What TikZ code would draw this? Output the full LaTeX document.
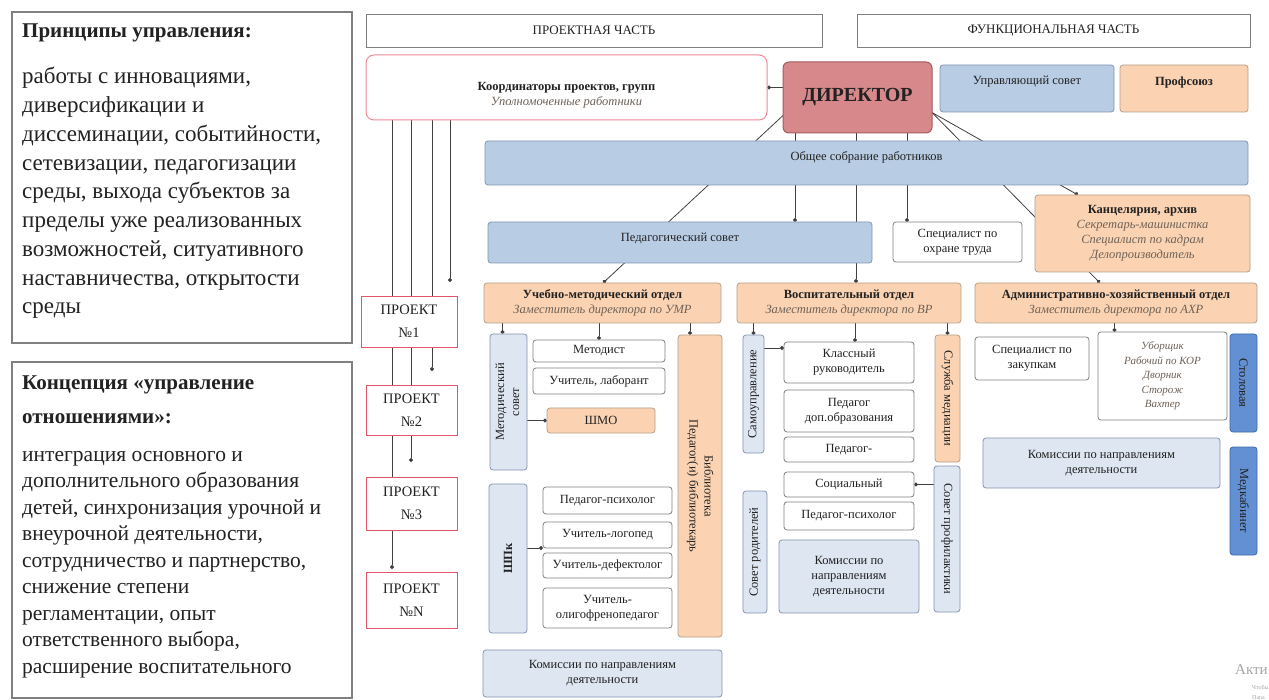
\documentclass[tikz,border=0pt]{standalone}
\usepackage{fontspec}
\setmainfont{Liberation Serif}
\usetikzlibrary{arrows.meta,backgrounds}
\definecolor{cblue}{HTML}{B8CCE4}
\definecolor{cblueb}{HTML}{8496B0}
\definecolor{clblue}{HTML}{DDE6F1}
\definecolor{corange}{HTML}{FBD3B2}
\definecolor{corangeb}{HTML}{B59F8C}
\definecolor{cdir}{HTML}{D6888B}
\definecolor{cdirb}{HTML}{A45A5C}
\definecolor{cdblue}{HTML}{6290D3}
\definecolor{cdblueb}{HTML}{3E6AA8}
\definecolor{ccoordb}{HTML}{EE8A96}
\definecolor{cprojb}{HTML}{E0566A}
\definecolor{cgray}{HTML}{808080}
\definecolor{ctext}{HTML}{222222}
\definecolor{citext}{HTML}{6E6258}
\definecolor{clink}{HTML}{404040}
\newcommand\bx[7]{\node[#2,minimum width={#5-#3},minimum height={#6-#4}] (#1) at ({(#3+#5)/2},{(#4+#6)/2}) {#7};}
\newcommand\bxt[8]{\node[#2,minimum width={#5-#3},minimum height={#6-#4}] (#1) at ({(#3+#5)/2},{(#4+#6)/2}) {};
  \node[#2,draw=none,fill=none,minimum width=0pt,minimum height=0pt] (#1-t) at ({(#3+#5)/2},#8) {#7};}
\newcommand\txtlines[1]{\begin{tabular}[t]{@{}l@{}}#1\end{tabular}}
\newcommand\vlns[1]{\begin{tabular}{@{}c@{}}#1\end{tabular}}
\newcommand\lbl{\fontsize{12.5}{15}\selectfont}
\newcommand\itg[1]{{\itshape\color{citext}#1}}
\begin{document}
\begin{tikzpicture}[x=1pt,y=-1pt,
  box/.style={rounded corners=3pt, line width=0.8pt, inner sep=1pt, outer sep=0pt, align=center, font=\lbl, text=ctext},
  bluebox/.style={box, fill=cblue, draw=cblueb},
  lbluebox/.style={box, fill=clblue, draw=cblueb},
  orbox/.style={box, fill=corange, draw=corangeb},
  whbox/.style={box, fill=white, draw=cgray},
  dkbox/.style={box, fill=cdblue, draw=cdblueb},
  dirbox/.style={box, rounded corners=6pt, fill=cdir, draw=cdirb, line width=1pt, font=\bfseries\fontsize{20}{22}\selectfont},
  coordbox/.style={box, rounded corners=8pt, fill=white, draw=ccoordb, line width=1pt},
  projbox/.style={draw=cprojb, fill=white, line width=0.9pt, inner sep=1pt, outer sep=0pt, align=center, text=ctext, font=\fontsize{14.5}{23}\selectfont},
  hdr/.style={draw=cgray, fill=white, line width=0.9pt, inner sep=1pt, outer sep=0pt, text=ctext, font=\fontsize{13}{15}\selectfont},
  panel/.style={draw=cgray, fill=white, line width=1.2pt, inner sep=0pt, outer sep=0pt},
  ptext/.style={anchor=base west, inner sep=0pt, text=ctext},
  conn/.style={draw=clink, line width=0.8pt, -{Circle[length=4pt]}},
  wm/.style={anchor=base west, inner sep=0pt, text=black!35}
]
\useasboundingbox (0,0) rectangle (1269,700);

% ---------- left panels ----------
\bx{pan1}{panel}{12}{12}{352}{343}{}
\node[ptext, font=\bfseries\fontsize{21}{25}\selectfont] (pan1t) at (22,38) {Принципы управления:};
\node[ptext, font=\fontsize{23}{28.75}\selectfont] (pan1b) at (22,84) {\txtlines{работы с инновациями,\\диверсификации и\\диссеминации, событийности,\\сетевизации, педагогизации\\среды, выхода субъектов за\\пределы уже реализованных\\возможностей, ситуативного\\наставничества, открытости\\среды}};

\bx{pan2}{panel}{12}{362}{352}{698}{}
\node[ptext, font=\bfseries\fontsize{21}{34}\selectfont] (pan2t) at (22,389) {\txtlines{Концепция «управление\\отношениями»:}};
\node[ptext, font=\fontsize{21.5}{26.5}\selectfont] (pan2b) at (22,461) {\txtlines{интеграция основного и\\дополнительного образования\\детей, синхронизация урочной и\\внеурочной деятельности,\\сотрудничество и партнерство,\\снижение степени\\регламентации, опыт\\ответственного выбора,\\расширение воспитательного}};

% ---------- headers ----------
\bx{hproj}{hdr}{366}{14}{822}{47}{ПРОЕКТНАЯ ЧАСТЬ}
\bx{hfunc}{hdr}{857}{14}{1250}{47}{ФУНКЦИОНАЛЬНАЯ ЧАСТЬ}

% ---------- top level ----------
\bxt{coord}{coordbox}{366}{55}{767}{120}{\textbf{Координаторы проектов, групп}\\\itg{Уполномоченные работники}}{95}
\bx{dir}{dirbox}{783}{62}{932}{133}{ДИРЕКТОР}
\bxt{us}{bluebox}{940}{65}{1114}{112}{Управляющий совет}{82}
\bxt{prof}{orbox}{1120}{65}{1248}{112}{\textbf{Профсоюз}}{82}
\bxt{sob}{bluebox}{485}{141}{1248}{185}{Общее собрание работников}{157}
\bxt{ped}{bluebox}{488}{222}{872}{263}{Педагогический совет}{238}
\bx{ot}{whbox}{893}{222}{1022}{262}{Специалист по\\охране труда}
\bx{kanc}{orbox}{1035}{195}{1250}{272}{\textbf{Канцелярия, архив}\\\itg{Секретарь-машинистка}\\\itg{Специалист по кадрам}\\\itg{Делопроизводитель}}

% ---------- departments ----------
\bx{umo}{orbox}{484}{283}{721}{323}{\textbf{Учебно-методический отдел}\\\itg{Заместитель директора по УМР}}
\bx{vo}{orbox}{737}{283}{961}{323}{\textbf{Воспитательный отдел}\\\itg{Заместитель директора по ВР}}
\bx{aho}{orbox}{975}{283}{1257}{323}{\textbf{Административно-хозяйственный отдел}\\\itg{Заместитель директора по АХР}}

% ---------- UMO column ----------
\bx{metsov}{lbluebox}{490}{334}{527}{470}{\rotatebox{90}{\vlns{Методический\\совет}}}
\bx{metod}{whbox}{533}{340}{665}{362}{Методист}
\bx{uchlab}{whbox}{533}{368}{665}{394}{Учитель, лаборант}
\bx{shmo}{orbox}{547}{408}{655}{433}{ШМО}
\bx{bib}{orbox}{678}{335}{722}{637}{\rotatebox{-90}{\vlns{Библиотека\\Педагог(и) библиотекарь}}}
\bx{shpk}{lbluebox}{489}{484}{527}{633}{\rotatebox{90}{\textbf{ШПк}}}
\bx{psy1}{whbox}{543}{487}{672}{514}{Педагог-психолог}
\bx{logo}{whbox}{543}{522}{672}{548}{Учитель-логопед}
\bx{defe}{whbox}{543}{553}{672}{578}{Учитель-дефектолог}
\bx{olig}{whbox}{543}{588}{672}{628}{Учитель-\\олигофренопедагог}
\bx{kom1}{lbluebox}{483}{650}{722}{697}{Комиссии по направлениям\\деятельности}

% ---------- VO column ----------
\bx{sam}{lbluebox}{743}{335}{764}{453}{\rotatebox{90}{Самоуправление}}
\bx{klass}{whbox}{784}{342}{914}{383}{Классный\\руководитель}
\bx{pdo}{whbox}{784}{390}{914}{432}{Педагог\\доп.образования}
\bx{ped2}{whbox}{784}{437}{914}{462}{Педагог-}
\bx{soc}{whbox}{784}{472}{914}{497}{Социальный}
\bx{psy2}{whbox}{784}{502}{914}{530}{Педагог-психолог}
\bx{kom2}{lbluebox}{779}{540}{919}{613}{Комиссии по\\направлениям\\деятельности}
\bx{rod}{lbluebox}{743}{491}{767}{613}{\rotatebox{90}{Совет родителей}}
\bx{med}{orbox}{935}{335}{960}{462}{\rotatebox{-90}{Служба медиации}}
\bx{profil}{lbluebox}{934}{466}{960}{612}{\rotatebox{-90}{Совет профилактики}}

% ---------- AHO column ----------
\bx{zak}{whbox}{975}{337}{1089}{380}{Специалист по\\закупкам}
\bx{ub}{whbox, font=\itshape\fontsize{11}{14.5}\selectfont, text=citext}{1098}{332}{1227}{420}{Уборщик\\Рабочий по КОР\\Дворник\\Сторож\\Вахтер}
\bx{stol}{dkbox}{1230}{334}{1257}{432}{\rotatebox{-90}{Столовая}}
\bx{kom3}{lbluebox}{983}{438}{1220}{488}{Комиссии по направлениям\\деятельности}
\bx{medk}{dkbox}{1230}{447}{1257}{555}{\rotatebox{-90}{Медкабинет}}

% ---------- projects ----------
\bx{p1}{projbox}{361}{296}{457}{347}{ПРОЕКТ\\№1}
\bx{p2}{projbox}{366}{385}{457}{435}{ПРОЕКТ\\№2}
\bx{p3}{projbox}{366}{477}{457}{530}{ПРОЕКТ\\№3}
\bx{pN}{projbox}{366}{572}{457}{628}{ПРОЕКТ\\№N}

% ---------- watermark fragments ----------
\node[wm, font=\fontsize{15}{15}\selectfont] (wm1) at (1235,674) {Акти};
\node[wm, font=\fontsize{6}{6}\selectfont] (wm2) at (1252,689) {Чтобы};
\node[wm, font=\fontsize{6}{6}\selectfont] (wm3) at (1252,699) {Пара};

% ---------- connectors (behind boxes) ----------
\begin{pgfonlayer}{background}
\fill[white] (0,0) rectangle (1269,700);
\draw[conn] (dir.west |- coord.east) -- (coord.east);
\draw[conn] ([yshift=-18]dir.west) -- ([xshift=119]umo.north west);
\draw[conn] ([xshift=12]dir.south west) -- ([xshift=12]dir.south west |- ped.north);
\draw[conn] ([xshift=73]dir.south west) -- ([xshift=73]dir.south west |- vo.north);
\draw[conn] ([xshift=124]dir.south west) -- ([xshift=124]dir.south west |- ot.north);
\draw[conn] ([yshift=-15]dir.east) -- ([xshift=125]aho.north west);
\draw[conn] ([yshift=-15]dir.east) -- ([xshift=43]kanc.north west);
% coordinators to projects
\draw[conn, shorten >=3pt] ([xshift=26]coord.south west) -- ([xshift=26]coord.south west |- pN.north);
\draw[conn, shorten >=15pt] ([xshift=45]coord.south west) -- ([xshift=45]coord.south west |- p3.north);
\draw[conn, shorten >=14pt] ([xshift=66]coord.south west) -- ([xshift=66]coord.south west |- p2.north);
\draw[conn, shorten >=14pt] ([xshift=84]coord.south west) -- ([xshift=84]coord.south west |- p1.north);
% UMO
\draw[conn] ([xshift=-6]umo.south -| metsov.north) -- ([xshift=-6]metsov.north);
\draw[conn] (umo.south -| metod.north) -- (metod.north);
\draw[conn] ([xshift=-10]umo.south -| bib.north) -- ([xshift=-10]bib.north);
\draw[conn] (metsov.east |- shmo.west) -- (shmo.west);
\draw[conn] (shpk.east |- logo.south west) -- (logo.south west);
% VO
\draw[conn] (vo.south -| sam.north) -- (sam.north);
\draw[conn] ([xshift=6]vo.south -| klass.north) -- ([xshift=6]klass.north);
\draw[conn] ([yshift=-6]klass.north west -| sam.east) -- ([yshift=-6]klass.north west);
\draw[conn] (vo.south -| med.north) -- (med.north);
\draw[conn] (profil.west |- soc.east) -- (soc.east);
% AHO
\draw[conn] ([xshift=-48]ub.north |- aho.south) -- ([xshift=-48]ub.north);
\end{pgfonlayer}
\end{tikzpicture}
\end{document}
